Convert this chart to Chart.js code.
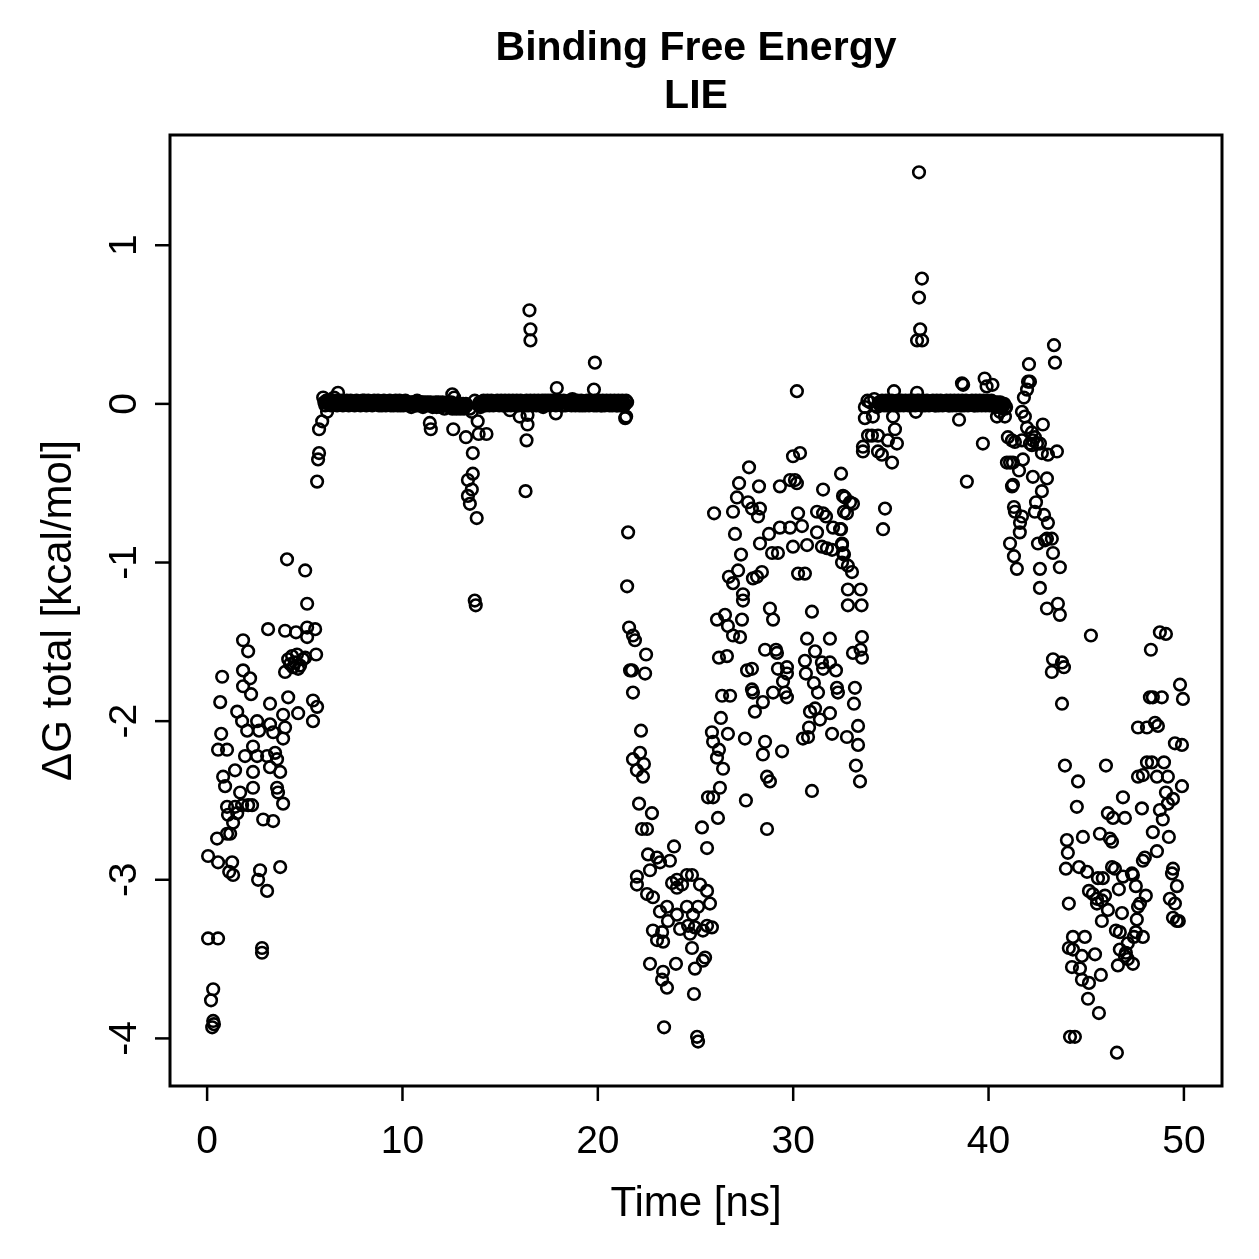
<!DOCTYPE html>
<html lang="en">
<head>
<meta charset="UTF-8">
<title>Binding Free Energy - LIE</title>
<style>
  html, body { margin: 0; padding: 0; background: #fff; }
  #wrap { width: 1259px; height: 1259px; }
</style>
</head>
<body>
<div id="wrap"><canvas id="lieChart" width="1259" height="1259"></canvas></div>
<script src="https://cdn.jsdelivr.net/npm/chart.js"></script>
<script>
// [time ns, dG kcal/mol]

// 0 - 6 ns: rising from about -3.5 towards 0
const ramp = [
  [4.09,-0.98],[5.02,-1.05],[5.12,-1.26],[3.12,-1.42],[3.99,-1.43],[4.55,-1.44],[5.12,-1.41],[5.53,-1.42],[5.12,-1.47],
  [1.84,-1.49],[2.1,-1.56],[4.15,-1.61],[4.35,-1.59],[4.5,-1.63],[4.6,-1.58],[4.76,-1.65],[4.4,-1.66],[4.25,-1.64],
  [4.91,-1.61],[4.66,-1.67],[3.99,-1.69],[5.02,-1.6],[5.58,-1.58],[0.77,-1.72],[1.84,-1.68],[2.2,-1.73],[1.84,-1.78],
  [2.25,-1.83],[3.22,-1.89],[4.15,-1.85],[4.66,-1.95],[5.42,-1.87],[5.63,-1.91],[5.42,-2.0],[0.67,-1.88],[1.54,-1.94],
  [1.79,-2.0],[2.05,-2.06],[2.56,-2.0],[2.66,-2.06],[3.22,-2.02],[3.38,-2.07],[3.89,-1.96],[3.99,-2.04],[3.89,-2.11],
  [0.72,-2.08],[0.56,-2.18],[1.02,-2.18],[2.35,-2.16],[1.94,-2.22],[2.56,-2.22],[3.07,-2.22],[3.48,-2.2],[3.58,-2.24],
  [3.22,-2.29],[3.74,-2.32],[2.35,-2.32],[0.82,-2.35],[0.92,-2.41],[1.43,-2.31],[1.69,-2.45],[2.35,-2.42],[3.58,-2.42],
  [3.63,-2.45],[3.89,-2.52],[1.02,-2.54],[1.43,-2.54],[1.79,-2.53],[2.1,-2.53],[2.3,-2.53],[1.07,-2.59],[1.54,-2.58],
  [1.33,-2.64],[2.87,-2.62],[3.38,-2.63],[0.51,-2.74],[1.02,-2.71],[1.18,-2.71],[0.05,-2.85],[0.56,-2.89],[1.28,-2.89],
  [1.13,-2.95],[1.33,-2.97],[2.71,-2.94],[2.61,-3.0],[3.07,-3.07],[3.74,-2.92],[0.05,-3.37],[0.56,-3.37],[2.81,-3.43],
  [2.81,-3.46],[0.31,-3.69],[0.2,-3.76],[0.31,-3.89],[0.26,-3.93],[0.35,-3.91],
  [5.73,-0.16],[5.89,-0.11],[5.73,-0.31],[5.68,-0.35],[5.63,-0.49],[5.94,0.04],[6.14,-0.05],[6.7,0.07],[6.5,0.04]
];

// 6 - 21.5 ns: bound plateau near zero (frames on the whole tenths)
const plateau1 = [
  [6.0,0.01],[6.1,0.02],[6.2,0],[6.3,0.01],[6.4,0.02],[6.5,0.01],[6.6,0],[6.7,0.02],[6.8,0.01],[6.9,0],
  [7.0,0.01],[7.1,0.01],[7.2,0],[7.3,0.01],[7.4,0],[7.5,0.01],[7.6,0.01],[7.7,0],[7.8,0.01],[7.9,0.01],
  [8.0,0],[8.1,0.01],[8.2,0],[8.3,0.01],[8.4,0.01],[8.5,0],[8.6,0.01],[8.7,0],[8.8,-0.01],[8.9,0.01],
  [9.0,0.01],[9.1,0],[9.2,0.01],[9.3,0.01],[9.4,-0.01],[9.5,0],[9.6,0.01],[9.7,0.01],[9.8,0],[9.9,-0.01],
  [10.0,0.01],[10.1,0],[10.2,0.01],[10.3,-0.01],[10.4,0],[10.5,0.01],[10.6,0],[10.7,-0.01],[10.8,0.01],[10.9,0],
  [11.0,0.01],[11.1,-0.01],[11.2,0],[11.3,0.01],[11.4,-0.01],[11.5,0],[11.6,-0.01],[11.7,0.01],[11.8,0],[11.9,-0.01],
  [12.0,0],[12.1,-0.01],[12.2,0],[12.3,-0.01],[12.4,-0.02],[12.5,0.01],[12.6,-0.02],[12.7,0],[12.8,-0.02],[12.9,-0.01],
  [13.0,-0.02],[13.1,0],[13.2,-0.02],[13.3,-0.01],
  [13.9,-0.01],[14.0,0.01],[14.1,0],[14.2,0.01],[14.3,0],[14.4,0.01],[14.5,0.01],[14.6,0],[14.7,0.01],[14.8,0],[14.9,0.01],
  [15.0,0],[15.1,0.01],[15.2,-0.01],[15.3,0.01],[15.4,0],[15.5,0.01],[15.6,0],[15.7,0.01],[15.8,-0.01],[15.9,0.01],
  [16.0,0],[16.1,0.01],[16.2,0.01],[16.3,-0.01],[16.4,0.01],[16.5,0],[16.6,0.01],[16.7,0.01],[16.8,0],[16.9,0.01],
  [17.0,0.01],[17.1,0],[17.2,0.01],[17.3,0.02],[17.4,0],[17.5,0.01],[17.6,0.02],[17.7,0],[17.8,0.01],[17.9,0.01],
  [18.0,0],[18.1,0.01],[18.2,-0.01],[18.3,0.01],[18.4,0.01],[18.5,0],[18.6,0.01],[18.7,0],[18.8,0.01],[18.9,0.01],
  [19.0,0],[19.1,0.01],[19.2,-0.01],[19.3,0.01],[19.4,0],[19.5,0.01],[19.6,0.01],[19.7,0],[19.8,-0.01],[19.9,0.01],
  [20.0,0],[20.1,0.01],[20.2,-0.01],[20.3,0.01],[20.4,0],[20.5,0.01],[20.6,-0.01],[20.7,0],[20.8,0.01],[20.9,0],
  [21.0,-0.01],[21.1,0.01],[21.2,0],[21.3,0.01],[21.4,0],[21.5,0.01]
];

// same plateau, frames in between
const plateau1Mid = [
  [6.05,-0.01],[6.15,0.01],[6.25,0.02],[6.35,-0.01],[6.45,0],[6.55,0.02],[6.65,-0.01],[6.75,0.01],[6.85,0.02],[6.95,-0.01],
  [7.05,0],[7.15,0.02],[7.25,-0.01],[7.35,0.02],[7.45,0.01],[7.55,-0.01],[7.65,0.02],[7.75,0.01],[7.85,-0.01],[7.95,0.02],
  [8.05,0.02],[8.15,-0.01],[8.25,0.02],[8.35,0],[8.45,-0.01],[8.55,0.02],[8.65,0.01],[8.75,0.02],[8.85,0],[8.95,-0.01],
  [9.05,0.02],[9.15,-0.01],[9.25,0],[9.35,0.02],[9.45,0.01],[9.55,-0.01],[9.65,0.02],[9.75,-0.01],[9.85,0.02],[9.95,0.01],
  [10.05,-0.01],[10.15,0.02],[10.25,0],[10.35,0.01],[10.45,-0.02],[10.55,0.01],[10.65,-0.01],[10.75,0.02],[10.85,-0.01],[10.95,0.01],
  [11.05,-0.02],[11.15,0.01],[11.25,-0.01],[11.35,0],[11.45,0.01],[11.55,-0.02],[11.65,0],[11.75,-0.02],[11.85,0.01],[11.95,-0.02],
  [12.05,0.01],[12.15,-0.03],[12.25,-0.01],[12.35,0.01],[12.45,-0.01],[12.55,-0.03],[12.65,0],[12.75,-0.03],[12.85,0],[12.95,-0.03],
  [13.05,-0.01],[13.15,-0.03],[13.25,0],
  [13.95,0.01],[14.05,-0.01],[14.15,0.02],[14.25,-0.01],[14.35,0.02],[14.45,-0.01],[14.55,0.02],[14.65,-0.01],[14.75,0],[14.85,0.02],[14.95,-0.01],
  [15.05,0.02],[15.15,-0.01],[15.25,0.02],[15.35,-0.01],[15.45,0.02],[15.55,-0.01],[15.65,0.02],[15.75,0],[15.85,0.02],[15.95,-0.01],
  [16.05,0.02],[16.15,-0.01],[16.25,0],[16.35,0.02],[16.45,-0.01],[16.55,0.02],[16.65,-0.01],[16.75,0.02],[16.85,-0.01],[16.95,0.02],
  [17.05,-0.01],[17.15,0.02],[17.25,-0.01],[17.35,0],[17.45,0.02],[17.55,-0.01],[17.65,0.01],[17.75,0.02],[17.85,-0.01],[17.95,0],
  [18.05,0.02],[18.15,-0.01],[18.25,0.02],[18.35,-0.01],[18.45,0],[18.55,0.02],[18.65,-0.01],[18.75,0.02],[18.85,-0.01],[18.95,0.02],
  [19.05,-0.01],[19.15,0.02],[19.25,0.01],[19.35,-0.01],[19.45,0.02],[19.55,-0.01],[19.65,0.02],[19.75,0.01],[19.85,0.02],[19.95,-0.01],
  [20.05,0.02],[20.15,-0.01],[20.25,0.02],[20.35,-0.01],[20.45,0.02],[20.55,0],[20.65,0.02],[20.75,-0.01],[20.85,0.02],[20.95,-0.01],
  [21.05,0.02],[21.15,-0.01],[21.25,0.02],[21.35,-0.01],[21.45,0.02]
];

const plateau1Outliers = [
  [11.4,-0.12],[11.45,-0.16],[12.6,-0.16],[12.55,0.06],[12.65,0.04],[13.25,-0.21],[13.45,-0.03],[13.55,-0.05],
  [13.85,-0.11],[13.9,-0.19],[14.3,-0.19],[13.6,-0.31],[13.6,-0.44],[13.35,-0.48],[13.55,-0.54],[13.35,-0.58],
  [13.45,-0.63],[13.8,-0.72],[13.7,-1.24],[13.75,-1.27],[16.0,-0.08],[16.4,-0.07],[16.4,-0.13],[16.35,-0.23],
  [16.3,-0.55],[16.5,0.59],[16.55,0.47],[16.55,0.40],[17.9,0.10],[17.85,-0.06],[19.85,0.26],[19.8,0.09],
  [21.4,-0.09],[21.45,-0.08],[15.5,-0.04],[17.2,-0.02],[18.7,0.03],[13.7,0.02],[14.0,-0.02]
];

// 21.5 - 26 ns: unbinding drop
const drop = [
  [21.55,-0.81],[21.5,-1.15],[21.6,-1.41],[21.8,-1.46],[21.9,-1.49],[22.47,-1.58],[21.65,-1.68],[21.75,-1.68],
  [22.42,-1.70],[21.8,-1.82],[22.21,-2.06],[22.16,-2.20],[21.8,-2.24],[22.36,-2.27],[22.0,-2.31],[22.31,-2.35],
  [22.11,-2.52],[22.77,-2.58],[22.26,-2.68],[22.52,-2.68],[25.59,-2.80],[23.9,-2.79],[22.57,-2.84],[23.03,-2.86],
  [23.18,-2.89],[23.69,-2.88],[22.0,-2.98],[22.0,-3.03],[22.67,-2.94],[22.52,-3.09],[22.82,-3.11],[23.8,-3.02],
  [24.05,-3.00],[24.31,-3.03],[24.56,-2.97],[24.82,-2.97],[24.05,-3.05],[25.23,-3.03],[25.59,-3.07],[25.74,-3.15],
  [25.13,-3.17],[23.18,-3.20],[23.54,-3.17],[24.05,-3.22],[24.56,-3.17],[24.87,-3.22],[22.82,-3.32],[23.29,-3.33],
  [23.03,-3.38],[23.34,-3.39],[23.59,-3.26],[24.21,-3.31],[24.62,-3.29],[24.97,-3.30],[25.38,-3.32],[25.84,-3.30],
  [25.59,-3.29],[24.72,-3.34],[24.82,-3.43],[25.49,-3.49],[25.38,-3.51],[22.67,-3.53],[23.34,-3.58],[23.29,-3.63],
  [23.54,-3.68],[24.0,-3.53],[24.97,-3.56],[24.92,-3.72],[23.39,-3.93],[25.08,-3.99],[25.13,-4.02]
];

// 26 - 34 ns: partially bound, wide spread
const wave = [
  [29.99,-0.33],[30.35,-0.31],[27.74,-0.40],[32.45,-0.44],[27.23,-0.50],[28.25,-0.52],[29.32,-0.52],[29.84,-0.48],
  [30.09,-0.48],[30.19,-0.50],[31.53,-0.54],[27.12,-0.59],[27.69,-0.62],[27.89,-0.66],[28.3,-0.66],[25.95,-0.69],
  [26.92,-0.68],[28.2,-0.71],[30.25,-0.69],[31.22,-0.68],[31.53,-0.69],[31.68,-0.71],[32.65,-0.59],[33.06,-0.63],
  [32.75,-0.69],[27.02,-0.82],[28.76,-0.82],[29.32,-0.78],[29.84,-0.78],[30.45,-0.77],[31.22,-0.81],[32.04,-0.78],
  [32.4,-0.79],[28.3,-0.88],[28.92,-0.94],[29.22,-0.94],[29.99,-0.90],[30.71,-0.89],[31.47,-0.90],[31.73,-0.91],
  [31.99,-0.92],[32.5,-0.89],[32.55,-0.94],[32.5,-1.00],[27.33,-0.95],[32.8,-1.02],[33.01,-1.06],[26.71,-1.09],
  [27.18,-1.05],[26.92,-1.13],[27.94,-1.10],[28.15,-1.09],[28.4,-1.06],[30.25,-1.07],[30.6,-1.07],[27.43,-1.20],
  [27.43,-1.24],[32.8,-1.17],[32.8,-1.27],[30.96,-1.31],[26.1,-1.36],[26.51,-1.33],[26.66,-1.40],[26.92,-1.46],
  [27.38,-1.36],[27.28,-1.47],[28.81,-1.29],[28.97,-1.36],[30.71,-1.48],[31.88,-1.48],[33.52,-1.47],[28.56,-1.55],
  [29.12,-1.55],[29.17,-1.57],[31.12,-1.56],[33.06,-1.57],[33.52,-1.60],[26.2,-1.60],[26.61,-1.59],[27.64,-1.68],
  [27.89,-1.67],[29.22,-1.67],[29.68,-1.66],[29.68,-1.70],[29.48,-1.75],[30.6,-1.62],[30.65,-1.70],[31.47,-1.63],
  [31.53,-1.67],[31.88,-1.63],[32.19,-1.68],[31.06,-1.76],[31.27,-1.82],[32.24,-1.79],[32.29,-1.82],[33.16,-1.79],
  [33.11,-1.89],[26.36,-1.84],[26.77,-1.84],[27.89,-1.80],[27.94,-1.82],[28.97,-1.82],[29.58,-1.82],[29.68,-1.85],
  [28.45,-1.88],[28.04,-1.94],[30.86,-1.94],[31.12,-1.92],[31.37,-1.99],[31.88,-1.95],[26.3,-1.98],[25.84,-2.07],
  [25.9,-2.13],[26.1,-2.23],[26.2,-2.18],[26.66,-2.08],[27.53,-2.11],[28.56,-2.13],[28.45,-2.21],[29.43,-2.19],
  [30.5,-2.11],[30.76,-2.10],[30.81,-2.04],[31.99,-2.08],[32.75,-2.10],[33.32,-2.03],[33.32,-2.15],[26.41,-2.30],
  [26.25,-2.42],[25.9,-2.48],[25.64,-2.48],[26.15,-2.61],[25.33,-2.67],[28.66,-2.35],[28.81,-2.38],[27.58,-2.50],
  [30.96,-2.44],[33.21,-2.28],[33.42,-2.38],[28.66,-2.68],[30.19,0.08],
  [32.55,-0.58],[32.91,-0.62],[32.6,-0.68],[32.45,-0.79],[32.5,-0.88],[32.6,-0.95],[33.45,-1.17],[33.5,-1.27],[33.45,-1.55]
];

// 33.5 - 43.5 ns: second plateau and the scatter around it
const plateau2 = [
  [34.4,0.01],[34.5,0],[34.6,0.01],[34.7,0.01],[34.8,-0.01],[34.9,0],[35.0,0.01],[35.1,0],[35.2,0.01],[35.3,0.01],
  [35.4,0],[35.5,0.01],[35.6,0.01],[35.7,0],[35.8,0.01],[35.9,-0.01],[36.0,0.01],[36.1,0],[36.2,0.01],[36.3,0.01],
  [36.4,0],[36.5,0.01],[36.6,-0.01],[36.7,0.01],[36.8,0],[36.9,0.01],[37.0,0.01],[37.1,0],[37.2,0.01],[37.3,-0.01],
  [37.4,0.01],[37.5,0],[37.6,0.01],[37.7,0.01],[37.8,0],[37.9,0.01],[38.0,-0.01],[38.1,0.01],[38.2,0],[38.3,0.01],
  [38.4,0],[38.5,0.01],[38.6,-0.01],[38.7,0.01],[38.8,0],[38.9,0.01],[39.0,0.01],[39.1,0],[39.2,0.01],[39.3,-0.01],
  [39.4,0.01],[39.5,0],[39.6,0.01],[39.7,0],[39.8,0.01],[39.9,0.01],[40.0,0],[40.1,0.01],[40.2,-0.01],[40.3,0.01],
  [40.4,0],[40.5,-0.01],[40.6,0.01],[40.7,-0.02],[40.8,0],[40.9,-0.02]
];

const plateau2Mid = [
  [34.45,-0.01],[34.55,0.02],[34.65,-0.01],[34.75,0.02],[34.85,0.01],[34.95,-0.01],[35.05,0.02],[35.15,-0.01],[35.25,0],[35.35,0.02],
  [35.45,-0.01],[35.55,0.02],[35.65,-0.01],[35.75,0.02],[35.85,0],[35.95,0.02],[36.05,-0.01],[36.15,0.02],[36.25,-0.01],[36.35,0.02],
  [36.45,0.02],[36.55,-0.01],[36.65,0.02],[36.75,-0.01],[36.85,0.02],[36.95,-0.01],[37.05,0],[37.15,0.02],[37.25,-0.01],[37.35,0.02],
  [37.45,-0.01],[37.55,0.02],[37.65,-0.01],[37.75,0],[37.85,0.02],[37.95,-0.01],[38.05,0.02],[38.15,-0.01],[38.25,0.02],[38.35,-0.01],
  [38.45,0.02],[38.55,-0.01],[38.65,0.02],[38.75,-0.01],[38.85,0.02],[38.95,-0.01],[39.05,0],[39.15,0.02],[39.25,-0.01],[39.35,0.02],
  [39.45,-0.01],[39.55,0.02],[39.65,-0.01],[39.75,0.02],[39.85,-0.01],[39.95,0.02],[40.05,-0.01],[40.15,0.02],[40.25,0],[40.35,-0.02],
  [40.45,0.01],[40.55,-0.02],[40.65,0],[40.75,-0.01],[40.85,-0.03]
];

const plateau2Scatter = [
  [33.67,-0.02],[33.93,0.01],[34.29,-0.02],[34.54,0.01],[33.67,-0.09],[34.08,-0.08],[35.11,-0.08],[33.83,-0.20],
  [34.03,-0.20],[34.34,-0.20],[35.21,-0.16],[34.85,-0.23],[35.31,-0.25],[33.57,-0.27],[33.57,-0.30],[34.34,-0.30],
  [34.54,-0.32],[35.06,-0.37],[34.70,-0.66],[34.6,-0.79],[35.16,0.08],[36.34,0.07],[36.28,-0.05],[38.49,-0.10],
  [39.71,-0.25],[38.89,-0.49],[38.64,0.13],[38.7,0.12],[39.8,0.16],[39.9,0.11],[40.2,0.12],[33.8,0.02],[34.15,0.03],
  [36.44,1.46],[36.59,0.79],[36.44,0.67],[36.5,0.47],[36.34,0.40],[36.6,0.40],
  [40.33,-0.01],[40.58,-0.05],[40.84,-0.08],[40.43,-0.08],[40.99,-0.21],[41.35,-0.24],[41.71,-0.23],[42.22,-0.18],
  [42.78,-0.13],[40.94,-0.37],[41.1,-0.37],[41.76,-0.35],[42.22,-0.26],[42.27,-0.23],[42.63,-0.25],[42.73,-0.31],
  [43.04,-0.32],[43.5,-0.30],[41.56,-0.42],[42.27,-0.46],[42.99,-0.47],[42.73,-0.55],[41.2,-0.52],[41.3,-0.65],
  [41.35,-0.68],[41.71,-0.71],[41.61,-0.75],[42.43,-0.62],[42.37,-0.68],[42.84,-0.70],[43.04,-0.75],[41.1,-0.88],
  [41.3,-0.96],[41.45,-1.04],[42.53,-0.88],[42.63,-1.04],[42.99,-0.85],[43.24,-0.85],[43.3,-0.94],[43.65,-1.03],
  [42.63,-1.16],[42.99,-1.29],[43.55,-1.26],[43.65,-1.33],[43.35,0.37],[43.4,0.26],[42.07,0.25],[42.02,0.14],
  [42.12,0.14],[41.97,0.09],[41.81,0.04],[41.71,-0.05],[41.86,-0.08],[41.97,-0.15],[42.37,-0.21],[42.12,-0.25],
  [42.48,-0.25],[41.25,-0.37],[41.2,-0.23],[41.25,-0.51],[41.6,-0.81],[42.89,-0.86],
  [43.3,-1.61],[43.76,-1.63],[43.24,-1.69],[43.86,-1.66],[43.76,-1.89]
];

// 43.5 - 50 ns: unbound again
const tail = [
  [45.24,-1.46],[48.77,-1.44],[49.08,-1.45],[48.31,-1.55],[49.8,-1.77],[49.95,-1.86],[48.26,-1.85],[48.41,-1.85],
  [48.87,-1.85],[47.65,-2.04],[48.11,-2.04],[48.52,-2.01],[48.67,-2.03],[49.54,-2.14],[49.9,-2.15],[43.91,-2.28],
  [46.01,-2.28],[44.58,-2.38],[48.11,-2.26],[48.36,-2.26],[48.98,-2.26],[47.65,-2.35],[47.9,-2.34],[48.62,-2.35],
  [49.18,-2.35],[49.9,-2.41],[49.08,-2.45],[49.44,-2.49],[49.18,-2.52],[46.88,-2.48],[47.85,-2.55],[44.52,-2.54],
  [46.11,-2.58],[46.37,-2.61],[46.98,-2.61],[48.77,-2.56],[48.92,-2.62],[45.7,-2.71],[46.21,-2.74],[46.32,-2.76],
  [44.83,-2.73],[44.01,-2.75],[44.06,-2.83],[43.96,-2.93],[48.41,-2.70],[48.62,-2.82],[49.23,-2.73],[48.0,-2.86],
  [47.9,-2.88],[44.63,-2.92],[45.04,-2.95],[46.32,-2.92],[46.47,-2.93],[45.6,-2.99],[45.85,-2.99],[46.88,-2.98],
  [47.34,-2.96],[47.39,-2.97],[47.54,-3.04],[46.67,-3.06],[49.44,-2.93],[49.39,-2.96],[49.64,-3.04],[49.28,-3.12],
  [49.54,-3.15],[49.44,-3.24],[49.64,-3.26],[49.74,-3.26],[45.14,-3.07],[45.34,-3.09],[45.55,-3.12],[45.8,-3.13],
  [45.96,-3.10],[45.55,-3.15],[46.11,-3.19],[44.11,-3.15],[45.8,-3.26],[46.83,-3.21],[46.52,-3.32],[46.72,-3.33],
  [47.59,-3.25],[47.75,-3.15],[48.05,-3.10],[47.65,-3.17],[47.54,-3.33],[47.9,-3.36],[47.44,-3.36],[44.32,-3.36],
  [44.93,-3.36],[44.11,-3.43],[44.32,-3.44],[44.78,-3.48],[45.45,-3.47],[46.72,-3.44],[47.03,-3.46],[47.13,-3.40],
  [46.98,-3.48],[47.13,-3.50],[47.39,-3.53],[46.62,-3.54],[44.27,-3.55],[44.68,-3.56],[44.78,-3.63],[45.14,-3.65],
  [45.75,-3.60],[45.09,-3.75],[45.65,-3.84],[44.17,-3.99],[44.42,-3.99],[46.57,-4.09]
];

const xTicks = [0, 10, 20, 30, 40, 50];
const yTicks = [-4, -3, -2, -1, 0, 1];
const titleLines = ['Binding Free Energy', 'LIE'];
const xTitle = 'Time [ns]';
const yTitle = '\u0394G total [kcal/mol]';

const points = [].concat(ramp, plateau1, plateau1Mid, plateau1Outliers, drop, wave,
  plateau2, plateau2Mid, plateau2Scatter, tail).map(p => ({ x: p[0], y: p[1] }));

const FONT = '"Liberation Sans", Arial, Helvetica, sans-serif';

// base-R look: full box, outward ticks, rotated y labels
const rAxes = {
  id: 'rAxes',
  afterDraw(chart) {
    const { ctx, chartArea: a, scales: { x, y } } = chart;
    ctx.save();
    ctx.strokeStyle = '#000';
    ctx.fillStyle = '#000';
    ctx.lineWidth = 3;
    ctx.strokeRect(a.left, a.top, a.right - a.left, a.bottom - a.top);

    ctx.lineWidth = 2.5;
    ctx.font = '39px ' + FONT;
    ctx.textAlign = 'center';
    ctx.textBaseline = 'alphabetic';
    xTicks.forEach(v => {
      const px = x.getPixelForValue(v);
      ctx.beginPath();
      ctx.moveTo(px, a.bottom);
      ctx.lineTo(px, a.bottom + 15);
      ctx.stroke();
      ctx.fillText(String(v), px, 1153);
    });
    yTicks.forEach(v => {
      const py = y.getPixelForValue(v);
      ctx.beginPath();
      ctx.moveTo(a.left, py);
      ctx.lineTo(a.left - 15, py);
      ctx.stroke();
      ctx.save();
      ctx.translate(136, py);
      ctx.rotate(-Math.PI / 2);
      ctx.fillText(String(v), 0, 0);
      ctx.restore();
    });

    const cx = (a.left + a.right) / 2;
    ctx.font = '42px ' + FONT;
    ctx.fillText(xTitle, cx, 1216);
    ctx.save();
    ctx.translate(71, (a.top + a.bottom) / 2);
    ctx.rotate(-Math.PI / 2);
    ctx.fillText(yTitle, 0, 0);
    ctx.restore();

    ctx.font = 'bold 41px ' + FONT;
    ctx.fillText(titleLines[0], cx, 60);
    ctx.fillText(titleLines[1], cx, 108);
    ctx.restore();
  }
};

new Chart(document.getElementById('lieChart'), {
  type: 'scatter',
  data: {
    datasets: [{
      data: points,
      pointStyle: 'circle',
      pointRadius: 5.8,
      pointHoverRadius: 5.8,
      pointBorderWidth: 2.6,
      borderColor: '#000',
      backgroundColor: 'rgba(0,0,0,0)'
    }]
  },
  options: {
    responsive: false,
    animation: false,
    events: [],
    layout: { padding: { left: 170, right: 37, top: 135, bottom: 173 } },
    plugins: { legend: { display: false }, tooltip: { enabled: false } },
    scales: {
      x: { type: 'linear', display: false, min: -1.9, max: 51.95 },
      y: { type: 'linear', display: false, min: -4.3, max: 1.695 }
    }
  },
  plugins: [rAxes]
});
</script>
</body>
</html>
